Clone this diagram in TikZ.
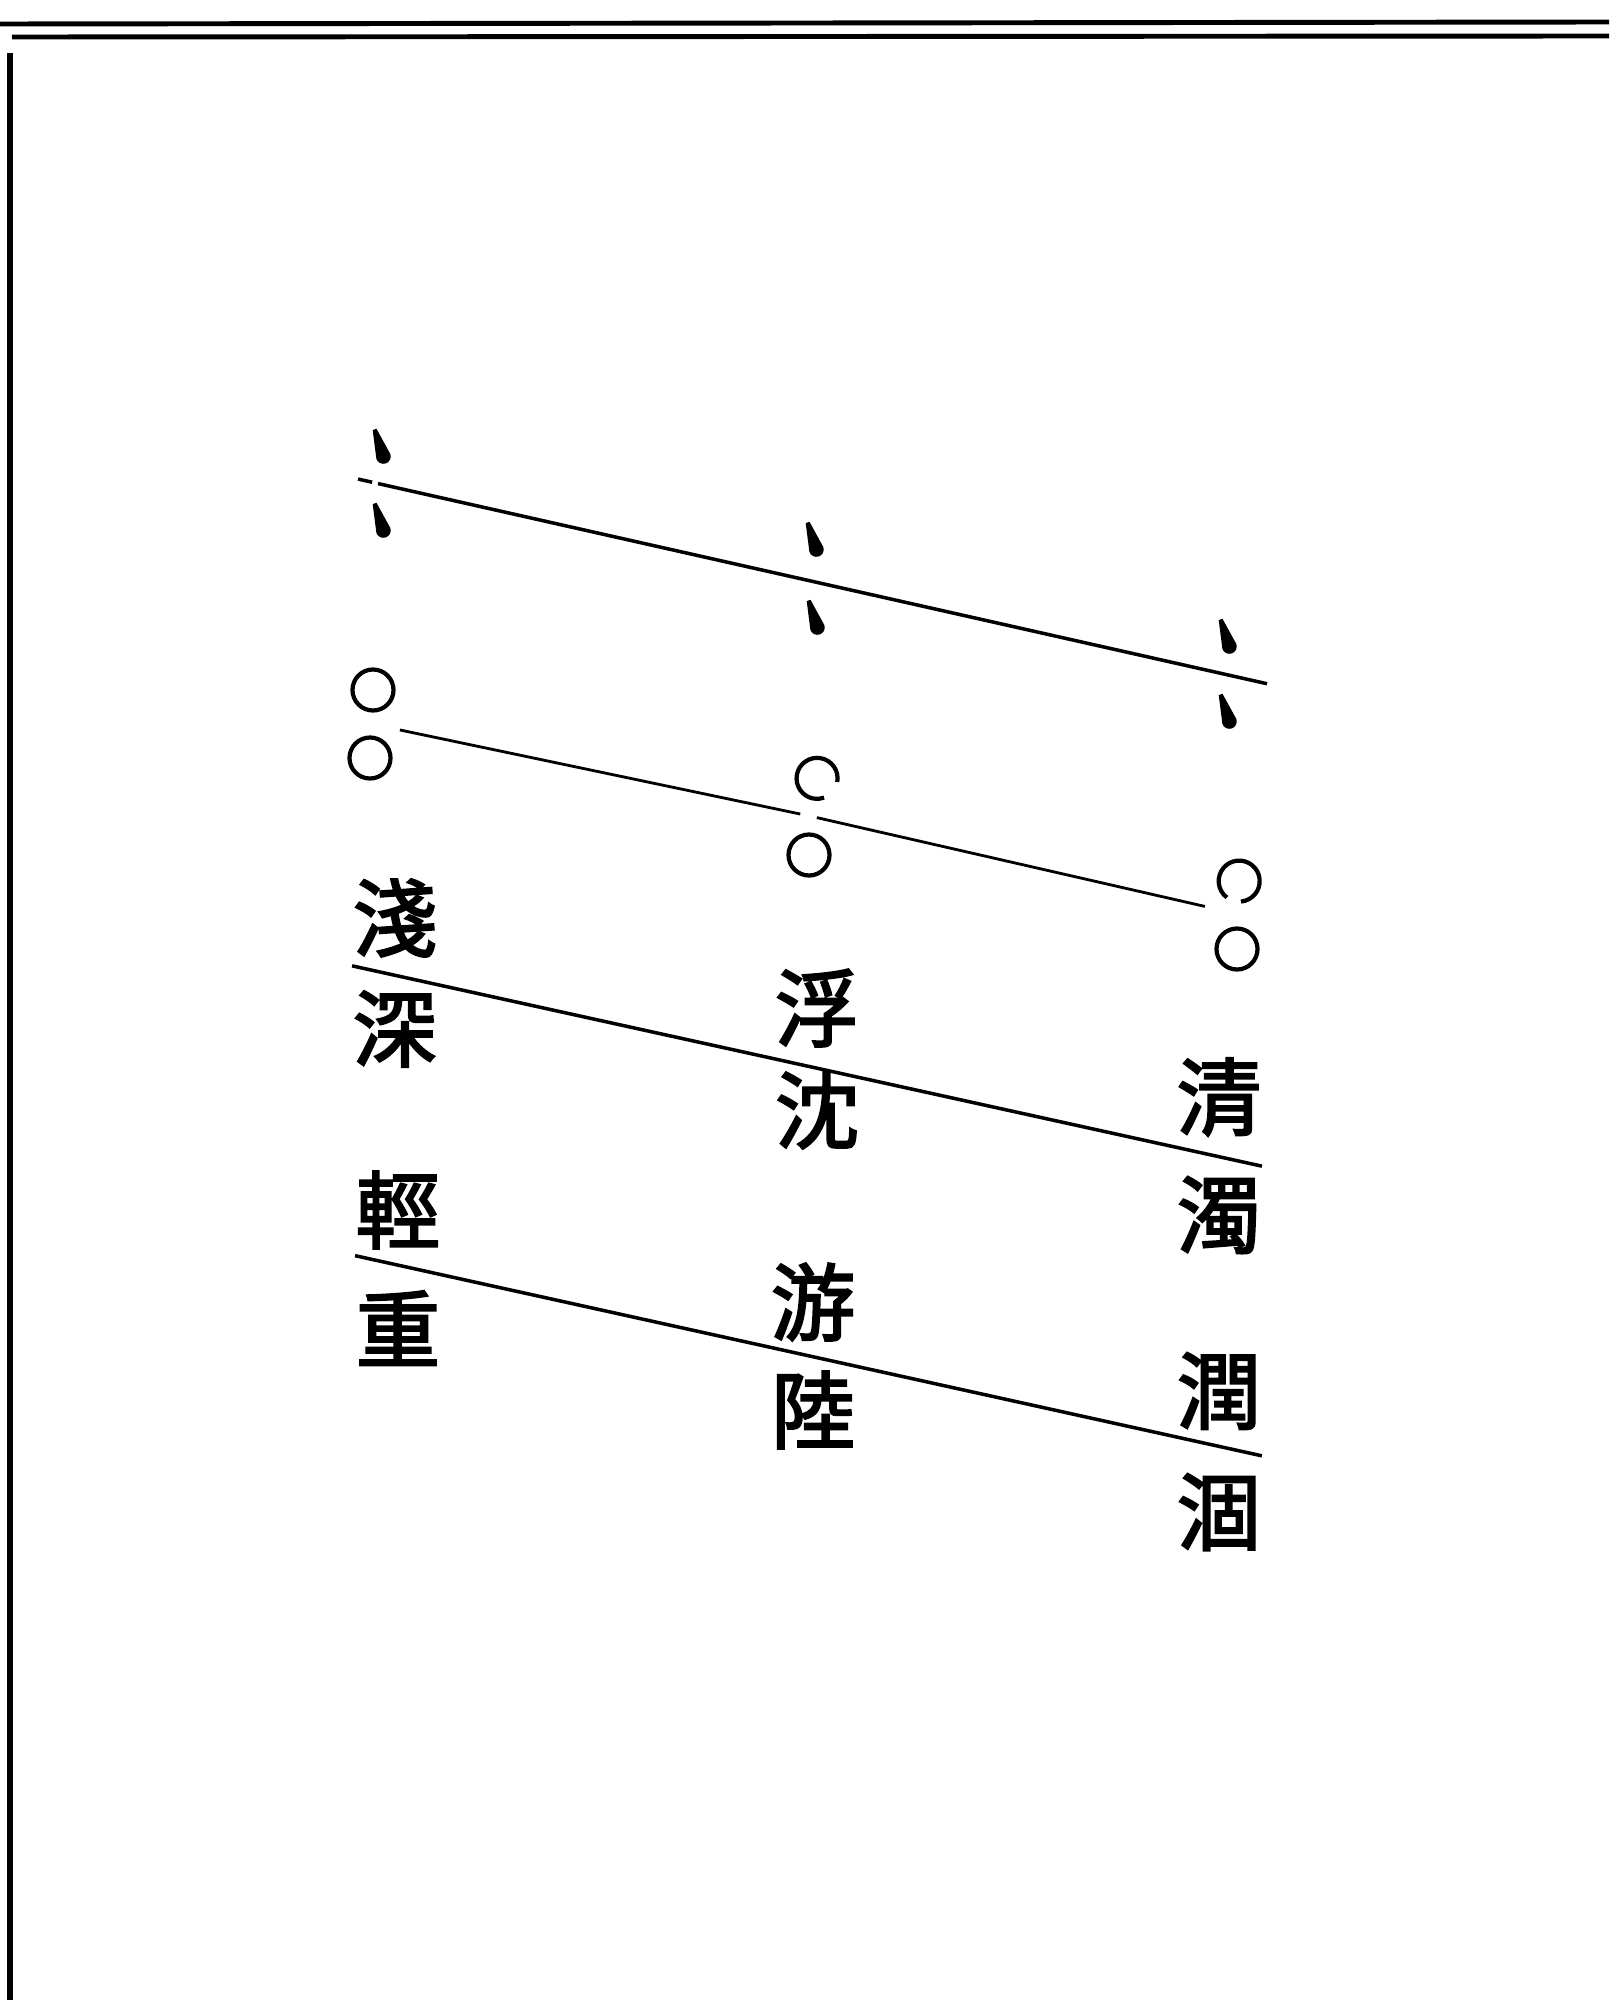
\documentclass[tikz,border=0pt]{standalone}
\usepackage{fontspec}
\newfontfamily\cjk[FakeBold=2.5]{Noto Sans CJK TC}
\usepackage{tikz}
\usetikzlibrary{calc,positioning}
\tikzset{TU style/.style={x=0.01cm,y=-0.01cm,node distance=1.04cm},
	dian/.pic={\fill (-5.4,-12.5) -- (-2.6,-13.5) -- (7.7,5.3) .. controls (8.6,8.2) and (7.1,11.3) .. (4.2,12.2)
		.. controls (1.3,13.1) and (-1.8,11.6) .. (-2.7,8.7) -- cycle;}}

\begin{document}
\begin{tikzpicture}[TU style]
	\tikzstyle{zi}=[font=\cjk\fontsize{24}{24}\selectfont, inner sep=0pt]
	\tikzstyle{quan}=[circle, draw, line width=1.2pt, minimum size=0.41cm, inner sep=0pt]
	\tikzstyle{xian}=[line width=1pt]
	
	\useasboundingbox (0,0) rectangle (1609,2000);
	
	% frame
	\draw[line width=1.4pt] (0,24) -- (1609,22);
	\draw[line width=1.4pt] (12,37) -- (1609,36);
	\draw[line width=1.7pt] (10,53) -- (10,2000);
	
	% dots
	\coordinate (d1) at (380,447);
	\coordinate (d2) at (380,521);
	\coordinate (d3) at (813,540);
	\coordinate (d4) at (814,618);
	\coordinate (d5) at (1226,637);
	\coordinate (d6) at (1226,712);
	\foreach \d in {d1,d2,d3,d4,d5,d6}
		\pic[scale=1.35] at (\d) {dian};
	
	\coordinate (dl) at ($(d1)!0.5!(d2)$);
	\coordinate (dr) at ($(d5)!0.5!(d6)$);
	\draw[xian] ($(dl)!-0.225cm!(dr)$) -- ($(dl)!-0.08cm!(dr)$);
	\path[xian] ($(dl)!-0.02cm!(dr)$) edge[shorten >=-0.42cm] (dr);
	
	% rings
	\node[quan] (q1) at (373,690) {};
	\node[quan] (q2) at (370,758) {};
	\node[quan, draw=none] (q3) at (815,778) {};
	\node[quan] (q4) at (809,855) {};
	\node[quan, draw=none] (q5) at (1239,879) {};
	\node[quan] (q6) at (1237,949) {};
	\draw[line width=1.2pt] (q3.-10) arc[start angle=-10, end angle=290, radius=0.205cm];
	\draw[line width=1.2pt] (q5.-85) arc[start angle=-85, end angle=233, radius=0.205cm];
	
	\coordinate (cl) at ($(q1)!0.5!(q2)$);
	\coordinate (cm) at ($(q3)!0.5!(q4)$);
	\coordinate (cr) at ($(q5)!0.5!(q6)$);
	\path[xian, line width=0.8pt] 
	(cl) edge[shorten <=0.29cm, shorten >=0.12cm] (cm)
	(cm) edge[shorten <=0.05cm, shorten >=0.34cm] (cr)
	;
	
	% words
	\node[zi] (qian) at (395,918) {淺};
	\node[zi] [below of=qian, node distance=1.11cm] (shen) {深};
	\node[zi] (fu) at (817,1008) {浮};
	\node[zi] [below of=fu, node distance=1.02cm] (chen) {沈};
	\node[zi] (qing) at (1219,1097) {清};
	\node[zi] [below of=qing, node distance=1.18cm] (zhuo) {濁};
	
	\node[zi] (qing2) at (398,1210) {輕};
	\node[zi] [below of=qing2, node distance=1.18cm] (zhong) {重};
	\node[zi] (you) at (813,1302) {游};
	\node[zi] [below of=you, node distance=1.08cm] (lu) {陸};
	\node[zi] (run) at (1219,1391) {潤};
	\node[zi] [below of=run, node distance=1.21cm] (he) {涸};
	
	\path[xian] 
	($(qian.south west)!0.25!(shen.north west)$) edge ($(qing.south east)!0.75!(zhuo.north east)$)
	($(qing2.south west)!0.15!(zhong.north west)$) edge ($(run.south east)!0.6!(he.north east)$)
	;
\end{tikzpicture}
\end{document}
